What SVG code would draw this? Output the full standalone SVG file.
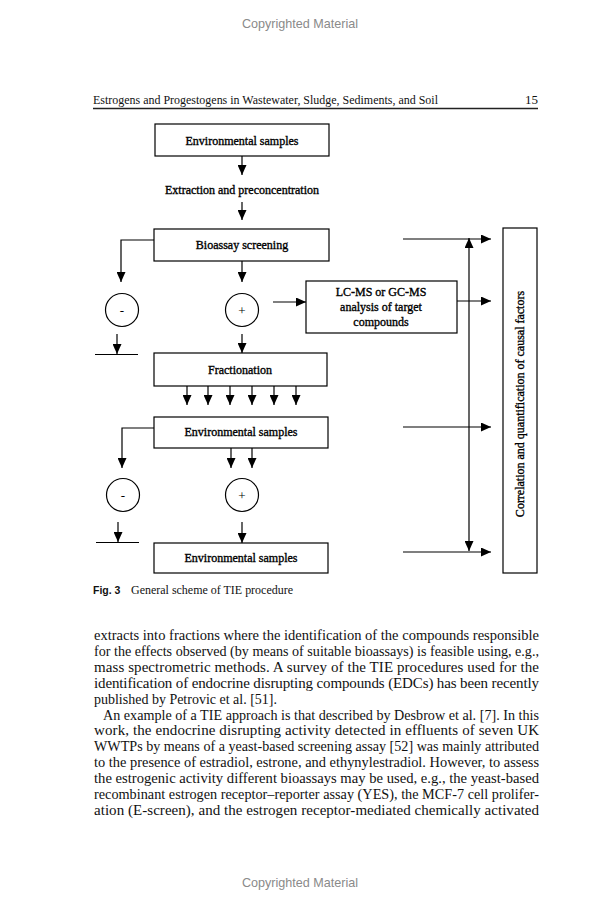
<svg xmlns="http://www.w3.org/2000/svg" width="600" height="910" viewBox="0 0 600 910">
<style>
.bg{fill:#fff}
.box{fill:#fff;stroke:#000;stroke-width:1.2}
.circ{fill:#fff;stroke:#000;stroke-width:1.2}
.ln{fill:none;stroke:#000;stroke-width:1.2}
.lbl{font-family:"Liberation Serif","Times New Roman",serif;font-size:12px;fill:#000;stroke:#000;stroke-width:0.35;text-anchor:middle}
.sym{font-family:"Liberation Serif",serif;font-size:13px;fill:#000;text-anchor:middle}
.body{font-family:"Liberation Serif","Times New Roman",serif;font-size:15px;fill:#111}
.hdr{font-family:"Liberation Serif","Times New Roman",serif;font-size:13px;fill:#111}
.cap{font-family:"Liberation Serif","Times New Roman",serif;font-size:12px;fill:#111}
.figl{font-family:"Liberation Sans",Arial,sans-serif;font-size:10.5px;font-weight:bold;fill:#111}
.copy{font-family:"Liberation Sans",Arial,sans-serif;font-size:12.6px;fill:#8a8a8a;text-anchor:middle}
</style>
<defs>
<marker id="ah" markerUnits="userSpaceOnUse" markerWidth="10" markerHeight="9" refX="10" refY="4.5" orient="auto-start-reverse" viewBox="0 0 10 9">
<path d="M0,0 L10,4.5 L0,9 z" fill="#000"/>
</marker>
</defs>
<rect class="bg" x="0" y="0" width="600" height="910"/>

<text class="copy" x="300" y="28">Copyrighted Material</text>
<text class="hdr" x="93" y="104" textLength="345" lengthAdjust="spacingAndGlyphs">Estrogens and Progestogens in Wastewater, Sludge, Sediments, and Soil</text>
<text class="hdr" x="525" y="104">15</text>
<line x1="93" y1="108.5" x2="538" y2="108.5" stroke="#222" stroke-width="1.5"/>

<g id="connectors">
<line class="ln" x1="242" y1="156" x2="242" y2="175" marker-end="url(#ah)"/>
<line class="ln" x1="242" y1="202" x2="242" y2="220" marker-end="url(#ah)"/>
<polyline class="ln" points="154,240 121,240 121,282" marker-end="url(#ah)"/>
<line class="ln" x1="242" y1="261" x2="242" y2="282" marker-end="url(#ah)"/>
<line class="ln" x1="273" y1="302" x2="306" y2="302" marker-end="url(#ah)"/>
<line class="ln" x1="117" y1="334" x2="117" y2="354" marker-end="url(#ah)"/>
<line class="ln" x1="95" y1="354.5" x2="138" y2="354.5"/>
<line class="ln" x1="242" y1="334" x2="242" y2="353" marker-end="url(#ah)"/>
<line class="ln" x1="457" y1="301" x2="491" y2="301" marker-end="url(#ah)"/>
<line class="ln" x1="403" y1="239" x2="491" y2="239" marker-end="url(#ah)"/>
<line class="ln" x1="469" y1="238" x2="469" y2="551" marker-start="url(#ah)" marker-end="url(#ah)"/>
<line class="ln" x1="187" y1="386" x2="187" y2="405" marker-end="url(#ah)"/>
<line class="ln" x1="208" y1="386" x2="208" y2="405" marker-end="url(#ah)"/>
<line class="ln" x1="230" y1="386" x2="230" y2="405" marker-end="url(#ah)"/>
<line class="ln" x1="252" y1="386" x2="252" y2="405" marker-end="url(#ah)"/>
<line class="ln" x1="274" y1="386" x2="274" y2="405" marker-end="url(#ah)"/>
<line class="ln" x1="296" y1="386" x2="296" y2="405" marker-end="url(#ah)"/>
<polyline class="ln" points="154,428 122,428 122,468" marker-end="url(#ah)"/>
<line class="ln" x1="231" y1="448" x2="231" y2="468" marker-end="url(#ah)"/>
<line class="ln" x1="252" y1="448" x2="252" y2="468" marker-end="url(#ah)"/>
<line class="ln" x1="118" y1="522" x2="118" y2="542" marker-end="url(#ah)"/>
<line class="ln" x1="96" y1="542.5" x2="139" y2="542.5"/>
<line class="ln" x1="242" y1="522" x2="242" y2="543" marker-end="url(#ah)"/>
<line class="ln" x1="403" y1="427" x2="491" y2="427" marker-end="url(#ah)"/>
<line class="ln" x1="403" y1="552" x2="491" y2="552" marker-end="url(#ah)"/>
</g>

<g id="env1">
<rect class="box" x="155" y="124" width="174" height="32"/>
<text class="lbl" x="242" y="144.5">Environmental samples</text>
</g>
<g id="extraction">
<text class="lbl" x="242" y="194">Extraction and preconcentration</text>
</g>
<g id="bioassay">
<rect class="box" x="154" y="229" width="175" height="32"/>
<text class="lbl" x="242" y="249">Bioassay screening</text>
</g>
<g id="neg1">
<circle class="circ" cx="122" cy="310" r="16.5"/>
<text class="sym" x="122" y="314.5">-</text>
</g>
<g id="pos1">
<circle class="circ" cx="242" cy="310" r="16.5"/>
<text class="sym" x="242" y="314.5">+</text>
</g>
<g id="lcms">
<rect class="box" x="306" y="281" width="151" height="52"/>
<text class="lbl" x="381" y="296">LC-MS or GC-MS</text>
<text class="lbl" x="381" y="311">analysis of target</text>
<text class="lbl" x="381" y="326">compounds</text>
</g>
<g id="fractionation">
<rect class="box" x="154" y="353" width="173" height="33"/>
<text class="lbl" x="240" y="374">Fractionation</text>
</g>
<g id="env2">
<rect class="box" x="154" y="417" width="174" height="31"/>
<text class="lbl" x="241" y="436">Environmental samples</text>
</g>
<g id="neg2">
<circle class="circ" cx="123" cy="495" r="16.5"/>
<text class="sym" x="123" y="499.5">-</text>
</g>
<g id="pos2">
<circle class="circ" cx="242" cy="495" r="16.5"/>
<text class="sym" x="242" y="499.5">+</text>
</g>
<g id="env3">
<rect class="box" x="154" y="543" width="174" height="30"/>
<text class="lbl" x="241" y="561.5">Environmental samples</text>
</g>
<g id="correlation">
<rect class="box" x="503" y="228" width="34" height="345"/>
<text class="lbl" transform="translate(524,404) rotate(-90)" x="0" y="0">Correlation and quantification of causal factors</text>
</g>

<text x="93" y="594"><tspan class="figl">Fig. 3</tspan></text>
<text class="cap" x="131" y="594" textLength="162" lengthAdjust="spacingAndGlyphs">General scheme of TIE procedure</text>

<g class="body">
<text x="94" y="640" textLength="445" lengthAdjust="spacingAndGlyphs">extracts into fractions where the identification of the compounds responsible</text>
<text x="94" y="656" textLength="445" lengthAdjust="spacingAndGlyphs">for the effects observed (by means of suitable bioassays) is feasible using, e.g.,</text>
<text x="94" y="672" textLength="445" lengthAdjust="spacing">mass spectrometric methods. A survey of the TIE procedures used for the</text>
<text x="94" y="687.5" textLength="445" lengthAdjust="spacing">identification of endocrine disrupting compounds (EDCs) has been recently</text>
<text x="94" y="703.5" textLength="183" lengthAdjust="spacingAndGlyphs">published by Petrovic et al. [51].</text>
<text x="103" y="719.5" textLength="436" lengthAdjust="spacingAndGlyphs">An example of a TIE approach is that described by Desbrow et al. [7]. In this</text>
<text x="94" y="735" textLength="445" lengthAdjust="spacing">work, the endocrine disrupting activity detected in effluents of seven UK</text>
<text x="94" y="751" textLength="445" lengthAdjust="spacingAndGlyphs">WWTPs by means of a yeast-based screening assay [52] was mainly attributed</text>
<text x="94" y="767" textLength="445" lengthAdjust="spacingAndGlyphs">to the presence of estradiol, estrone, and ethynylestradiol. However, to assess</text>
<text x="94" y="782.5" textLength="445" lengthAdjust="spacingAndGlyphs">the estrogenic activity different bioassays may be used, e.g., the yeast-based</text>
<text x="94" y="798.5" textLength="445" lengthAdjust="spacingAndGlyphs">recombinant estrogen receptor–reporter assay (YES), the MCF-7 cell prolifer-</text>
<text x="94" y="814.5" textLength="445" lengthAdjust="spacing">ation (E-screen), and the estrogen receptor-mediated chemically activated</text>
</g>

<text class="copy" x="300" y="887">Copyrighted Material</text>
</svg>
